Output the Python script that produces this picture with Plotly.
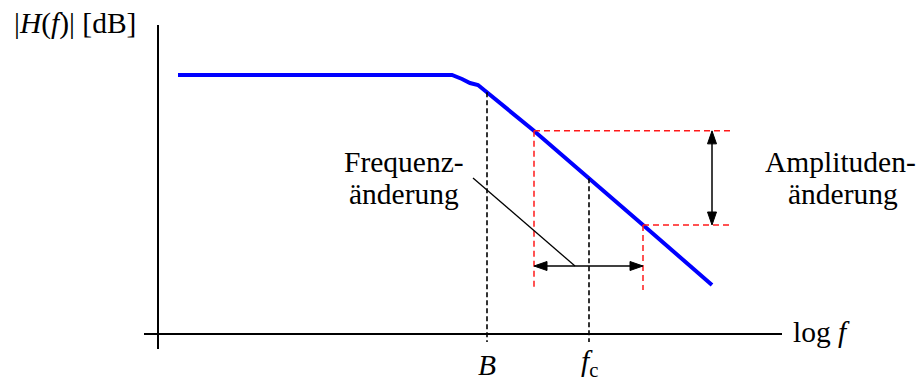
import numpy as np
import plotly.graph_objects as go

# Magnitude response of a low-pass (schematic units: log f to the right, dB upward,
# origin at the crossing of the two axes)
response_logf = [20, 294, 304, 312, 320, 375, 485, 554]
response_db = [259, 259, 255, 251, 249, 204, 109, 49]

# Marked frequencies on the log f axis
cutoff_B = 329          # bandwidth B
carrier_fc = 431        # carrier frequency f_c
band_low, band_high = 376, 485   # frequency deviation around f_c

# Axis labels and annotation texts
y_label = "|<i>H</i>(<i>f</i>)| [dB]"
x_label = "log <i>f</i>"
tick_B = "<i>B</i>"
tick_fc = "<i>f</i><sub>c</sub>"
freq_text = ["Frequenz-", "änderung"]
amp_text = ["Amplituden-", "änderung"]

FONT = "Liberation Serif, Times New Roman, serif"
W, H = 916, 383
X0, Y0 = 158, 334   # pixel position of the origin

def amp(f):
    return float(np.interp(f, response_logf, response_db))

fig = go.Figure()

# frequency response curve
fig.add_trace(go.Scatter(x=response_logf, y=response_db, mode="lines",
                         line=dict(color="#0000ff", width=4), hoverinfo="skip"))

def line(x0, y0, x1, y1, color="black", width=1.5, dash="solid"):
    fig.add_shape(type="line", x0=x0, y0=y0, x1=x1, y1=y1, xref="x", yref="y",
                  line=dict(color=color, width=width, dash=dash))

def head(tx, ty, dx, dy, length=13, half=4.5):
    # filled triangular arrow head, tip at (tx, ty), pointing along (dx, dy)
    n = np.hypot(dx, dy)
    ux, uy = dx / n, dy / n
    bx, by = tx - ux * length, ty - uy * length
    px, py = -uy * half, ux * half
    path = f"M {tx},{ty} L {bx + px},{by + py} L {bx - px},{by - py} Z"
    fig.add_shape(type="path", path=path, xref="x", yref="y",
                  fillcolor="black", line=dict(color="black", width=1))

# axes
line(0, -15, 0, 309, width=2)
line(-14, 0, 624, 0, width=2)

# dashed markers for B and f_c
line(cutoff_B, amp(cutoff_B), cutoff_B, -8, width=1.6, dash="5px,3px")
line(carrier_fc, amp(carrier_fc), carrier_fc, -8, width=1.6, dash="5px,3px")

# red construction lines for the deviation
red = "#ff1a1a"
a_low, a_high = amp(band_low), amp(band_high)
right_end = 573
line(band_low, a_low, band_low, 44, color=red, dash="6px,4px")
line(band_high, a_high, band_high, 44, color=red, dash="6px,4px")
line(band_low, a_low, right_end, a_low, color=red, dash="6px,4px")
line(band_high, a_high, right_end + 2, a_high, color=red, dash="6px,4px")

# frequency deviation arrow
arrow_y = 68
line(band_low + 8, arrow_y, band_high - 8, arrow_y, width=1.5)
head(band_low, arrow_y, -1, 0)
head(band_high, arrow_y, 1, 0)

# amplitude change arrow
arrow_x = 554
line(arrow_x, a_low - 8, arrow_x, a_high + 8, width=1.5)
head(arrow_x, a_low, 0, 1)
head(arrow_x, a_high, 0, -1)

# pointer from the text to the frequency arrow
line(315, 156, 417, arrow_y, width=1.3)

def text(x, y, s, xanchor="center", yanchor="middle", size=29.5):
    fig.add_annotation(x=x, y=y, text=s, showarrow=False, xref="x", yref="y",
                       xanchor=xanchor, yanchor=yanchor,
                       font=dict(family=FONT, size=size, color="black"))

text(-146, 311, y_label, xanchor="left")
text(633, 2, x_label, xanchor="left")
text(cutoff_B, -31, tick_B)
text(carrier_fc, -29, tick_fc)
text(246, 172, freq_text[0])
text(246, 140, freq_text[1])
text(682, 172, amp_text[0])
text(685, 140, amp_text[1])

fig.update_layout(
    width=W, height=H, margin=dict(l=0, r=0, t=0, b=0),
    paper_bgcolor="white", plot_bgcolor="white", showlegend=False,
    xaxis=dict(range=[-X0, W - X0], visible=False, fixedrange=True),
    yaxis=dict(range=[Y0 - H, Y0], visible=False, fixedrange=True),
)

fig.write_html("out.html")
